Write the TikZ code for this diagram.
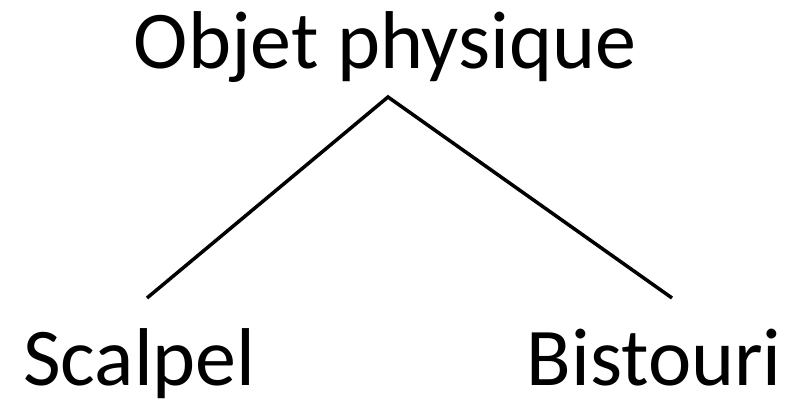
\documentclass[tikz,border=0pt]{standalone}
\usepackage{fontspec}
\setmainfont{Carlito}
\usepackage{tikz}
\definecolor{ink}{RGB}{0,0,0}
\tikzset{
  term/.style={
    font=\fontsize{82}{98}\selectfont, text=ink, inner sep=0pt,
  },
  branch/.style={line width=3.5pt, draw=ink},
}

\begin{document}
\begin{tikzpicture}[x=1pt,y=-1pt]
  \useasboundingbox (0,0) rectangle (807,404);

  % root
  \node[term, anchor=base] (objet) at (385,69) {Objet physique};

  % leaves
  \node[term, anchor=base west] (scalpel) at (23,385) {Scalpel};
  \node[term, anchor=base east] (bistouri) at (782,385) {Bistouri};

  \coordinate (apex) at (388,97);
  \coordinate (lfoot) at (147,298);
  \coordinate (rfoot) at (672,298);
  \draw[branch] (lfoot) -- (apex) -- (rfoot);
\end{tikzpicture}
\end{document}
